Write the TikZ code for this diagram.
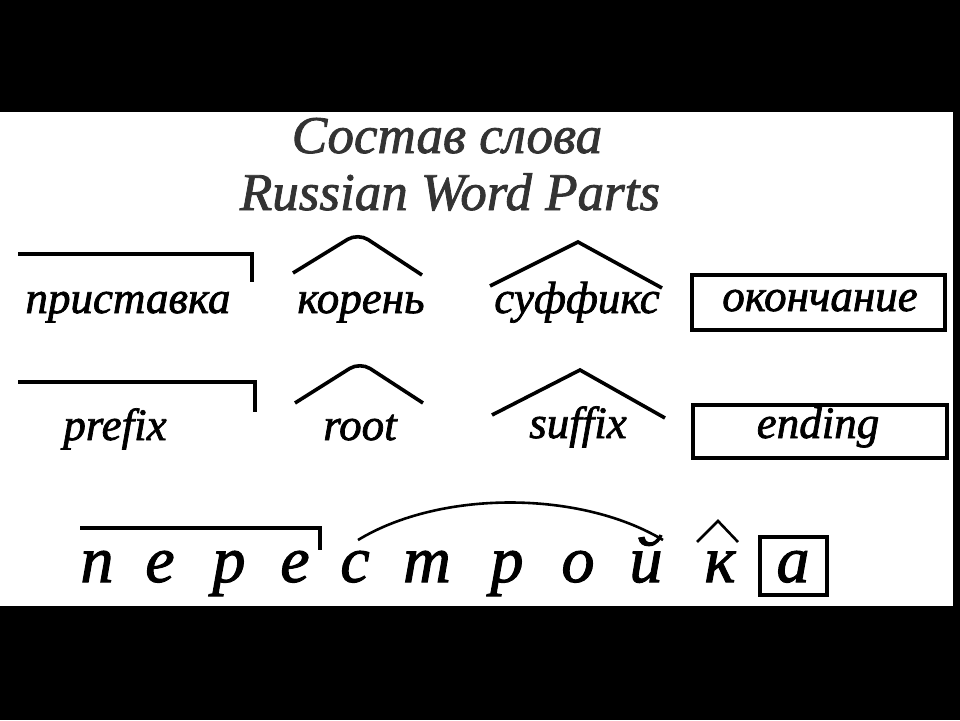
\documentclass[tikz,border=0pt]{standalone}
\usepackage{fontspec}
\setmainfont{Liberation Serif}[ItalicFeatures={FakeBold=1.6}]
\begin{document}
\begin{tikzpicture}[x=1pt,y=-1pt,
  title/.style={anchor=base,inner sep=0pt,text=black!80,font=\fontsize{53}{58}\selectfont\itshape},
  lbl/.style={anchor=base,inner sep=0pt,font=\fontsize{45}{50}\selectfont\itshape},
  big/.style={anchor=base,inner sep=0pt,font=\fontsize{66}{72}\selectfont\itshape},
  sign/.style={line width=3.6pt},
  thin/.style={line width=2.6pt}]
\fill[black] (0,0) rectangle (960,720);
\fill[white] (0,112) rectangle (953,606);
\draw(447,153) node[title] (t1) {Состав слова};
\draw(450,210) node[title] (t2) {Russian Word Parts};
\draw(128,313) node[lbl] (ru1) {приставка};
\draw(361,313) node[lbl] (ru2) {корень};
\draw(577,313) node[lbl] (ru3) {суффикс};
\draw(820,311) node[lbl] (ru4) {окончание};
\draw(115,440) node[lbl] (en1) {prefix};
\draw(360,440) node[lbl] (en2) {root};
\draw(578,438) node[lbl] (en3) {suffix};
\draw(818,438) node[lbl] (en4) {ending};
\draw[sign] (18,254) -- (252,254) -- (252,282);
\draw[sign,rounded corners=12pt] (293,273) -- (358,233) -- (422,275);
\draw[sign] (490,286) -- (578,242) -- (662,288);
\draw[sign] (692,275) rectangle (945,330);
\draw[sign] (18,382) -- (255,382) -- (255,412);
\draw[sign,rounded corners=12pt] (295,403) -- (360,362) -- (423,403);
\draw[sign] (492,415) -- (580,370) -- (665,418);
\draw[sign] (693,405) rectangle (947,458);
\foreach \x/\l [count=\i] in {97/п,160/е,229/р,295/е,355/с,427/т,507/р,578/о,646/й,720/к,793/а}
  \draw(\x,582) node[big] (w\i) {\l};
\draw[sign] (80,528) -- (320,528) -- (320,550);
\draw[thin] (358,540) .. controls (440,490) and (580,490) .. (663,540);
\draw[thin] (697,542) -- (718,521) -- (738,542);
\draw[sign] (760,537) rectangle (827,595);
\end{tikzpicture}
\end{document}
